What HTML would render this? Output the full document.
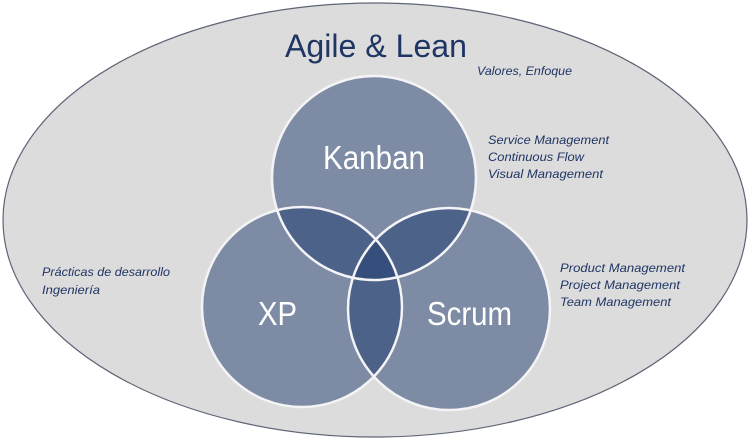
<!DOCTYPE html>
<html><head><meta charset="utf-8"><style>
html,body{margin:0;padding:0;background:#fff;}
svg{display:block;}
text{font-family:"Liberation Sans",sans-serif;}
.i{font-style:italic;font-size:12px;fill:#1f3564;}
.b{fill:#fff;font-size:33px;}
</style></head><body>
<svg width="750" height="442" viewBox="0 0 750 442">
<ellipse cx="375" cy="220" rx="372" ry="217" fill="#dcdcdc" stroke="#5e6577" stroke-width="1.2"/>
<g fill="#1e3a6e" fill-opacity="0.5">
<circle cx="374" cy="178" r="102"/>
<circle cx="302" cy="307" r="100"/>
<circle cx="449" cy="309" r="101"/>
</g>
<g fill="none" stroke="#f4f4f6" stroke-width="2.5">
<circle cx="374" cy="178" r="102"/>
<circle cx="302" cy="307" r="100"/>
<circle cx="449" cy="309" r="101"/>
</g>
<text x="285" y="57" textLength="182" lengthAdjust="spacingAndGlyphs" font-size="32" fill="#1f3564">Agile &amp; Lean</text>
<text x="477" y="75" class="i" textLength="95" lengthAdjust="spacingAndGlyphs">Valores, Enfoque</text>
<text x="488" y="144" class="i" textLength="121" lengthAdjust="spacingAndGlyphs">Service Management</text>
<text x="488" y="161" class="i" textLength="96" lengthAdjust="spacingAndGlyphs">Continuous Flow</text>
<text x="488" y="178" class="i" textLength="115" lengthAdjust="spacingAndGlyphs">Visual Management</text>
<text x="42" y="276" class="i" textLength="128" lengthAdjust="spacingAndGlyphs">Prácticas de desarrollo</text>
<text x="42" y="294" class="i" textLength="58" lengthAdjust="spacingAndGlyphs">Ingeniería</text>
<text x="560" y="272" class="i" textLength="125" lengthAdjust="spacingAndGlyphs">Product Management</text>
<text x="560" y="289" class="i" textLength="120" lengthAdjust="spacingAndGlyphs">Project Management</text>
<text x="560" y="306" class="i" textLength="111" lengthAdjust="spacingAndGlyphs">Team Management</text>
<text x="323" y="169" textLength="102" lengthAdjust="spacingAndGlyphs" class="b">Kanban</text>
<text x="258" y="325" textLength="39" lengthAdjust="spacingAndGlyphs" class="b">XP</text>
<text x="427" y="325" textLength="85" lengthAdjust="spacingAndGlyphs" class="b">Scrum</text>
</svg>
</body></html>
